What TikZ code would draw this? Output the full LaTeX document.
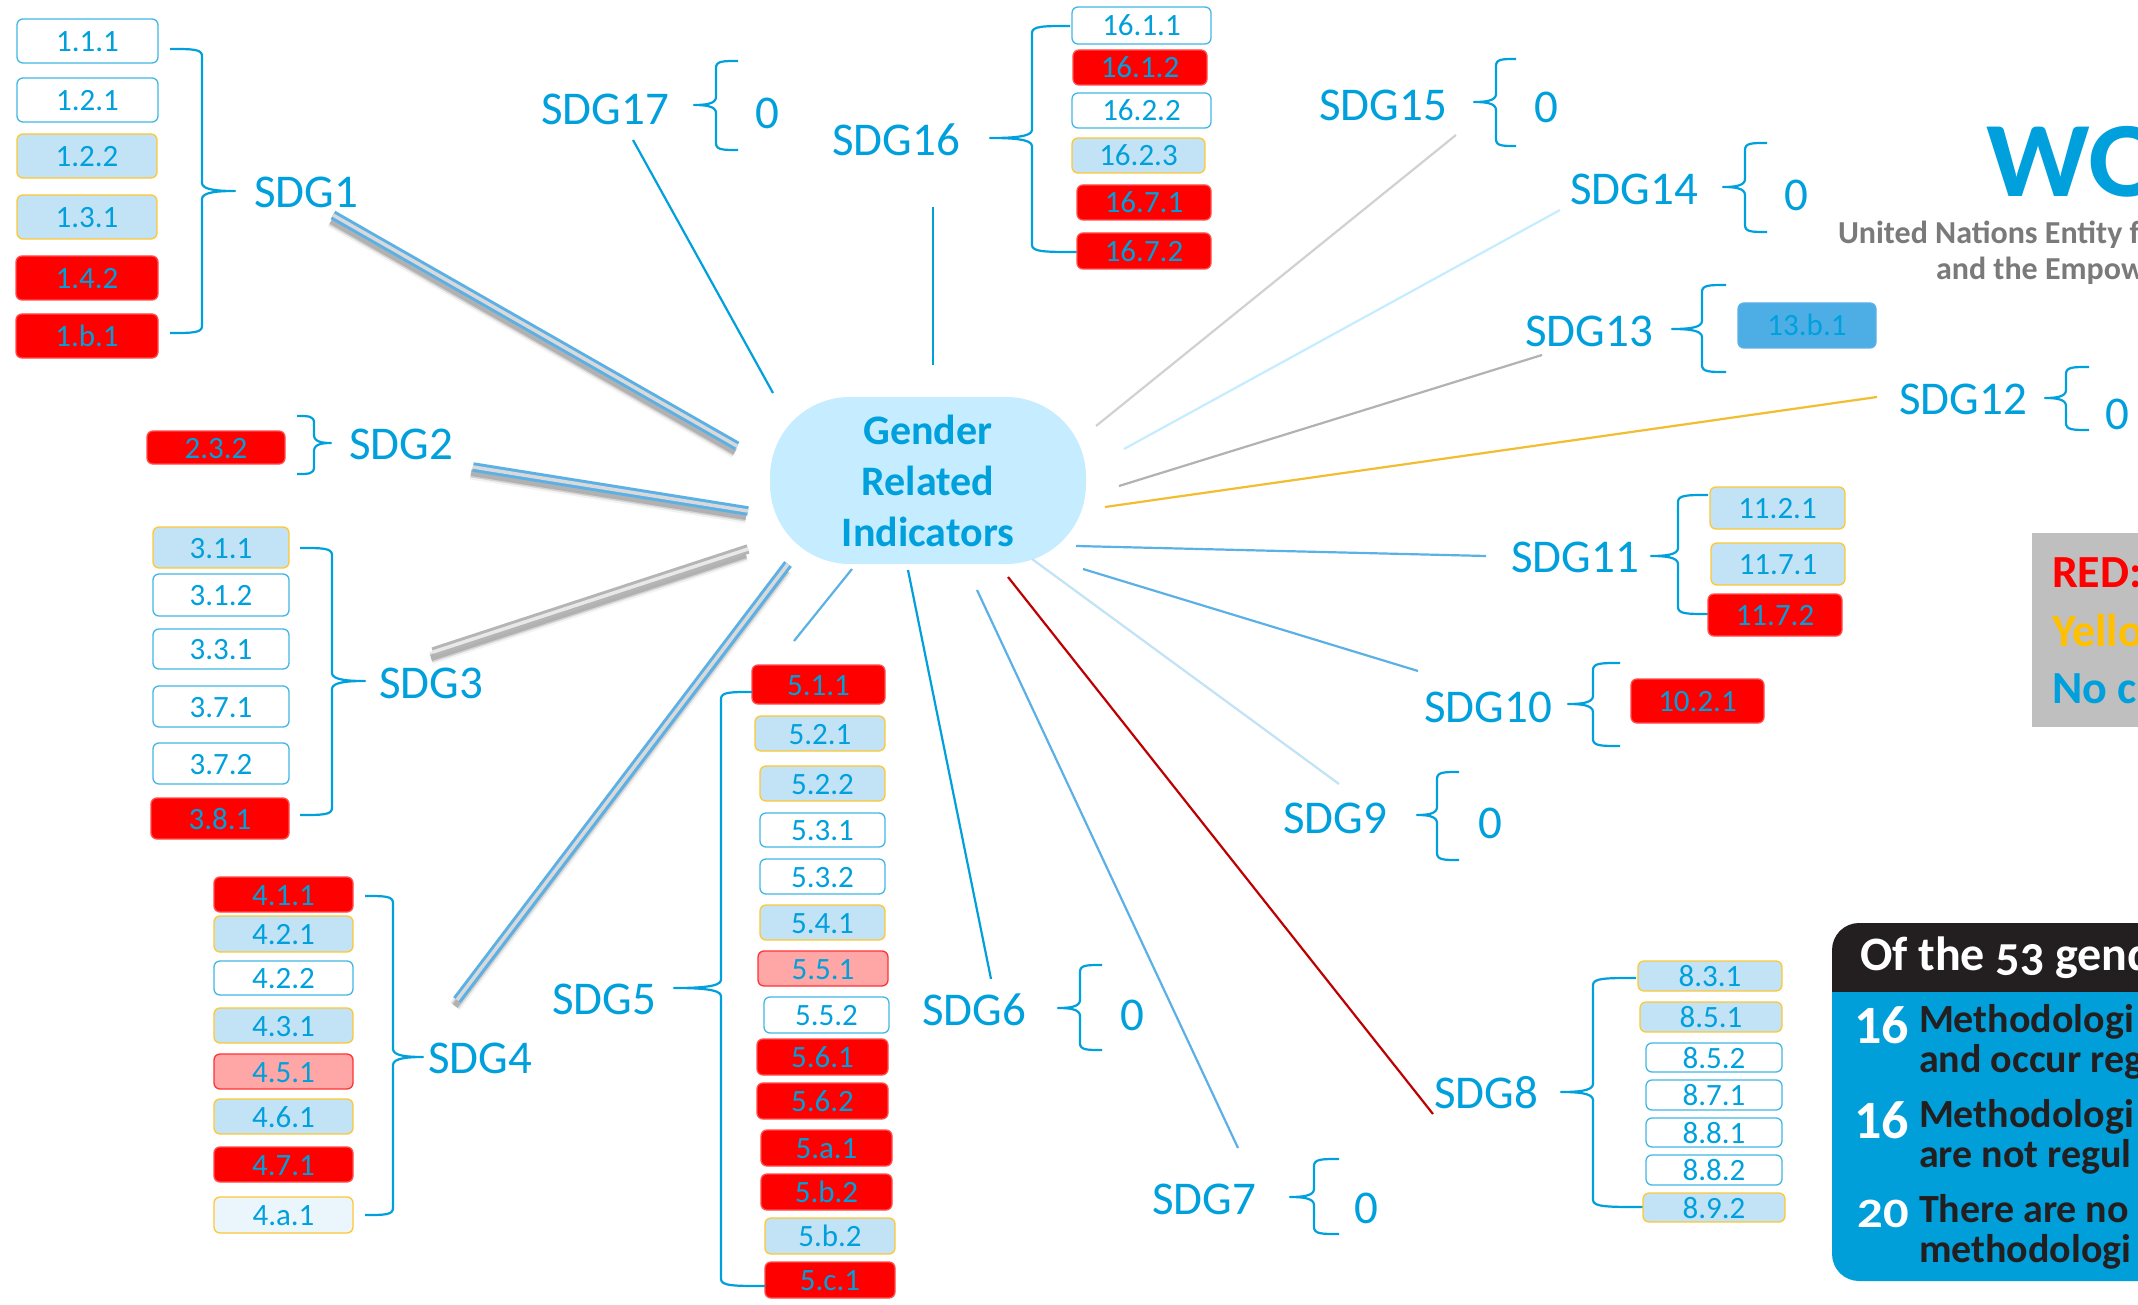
\documentclass[tikz,border=0pt]{standalone}
\usepackage{fontspec}
\setmainfont{Carlito}
\newfontfamily\panelfont[Numbers=OldStyle]{Carlito}
\definecolor{sdgblue}{HTML}{00A0DC}
\definecolor{linkblue}{HTML}{5BB0E6}
\definecolor{pale}{HTML}{C2E2F6}
\definecolor{gold}{HTML}{FFC733}
\definecolor{hubfill}{HTML}{C5EDFF}
\definecolor{panelblack}{HTML}{231F20}
\definecolor{panelblue}{HTML}{009FDA}
\tikzset{
  ibox/.style={rounded corners=6pt,inner sep=0pt,outer sep=0pt,line width=1.3pt,text=sdgblue,
    font=\fontsize{31}{36}\selectfont,text height=21pt,text depth=0pt,align=center},
  iwhite/.style={ibox,draw=sdgblue!75,fill=white},
  ipale/.style={ibox,draw=gold,fill=pale},
  ired/.style={ibox,draw=red!70!white,fill=red},
  ipink/.style={ibox,draw=red!80!white,fill=red!35!white},
  ifaint/.style={ibox,draw=gold,fill=pale!35!white},
  itone/.style={ibox,draw=linkblue,fill=linkblue!85!sdgblue},
  sdglabel/.style={inner sep=0pt,outer sep=0pt,text=sdgblue,font=\fontsize{47}{54}\selectfont,
    text height=31pt,text depth=0pt},
  brc/.style={draw=sdgblue,line width=2.2pt,line join=round},
  link/.style={line width=2.2pt},
  band/.style={line width=3pt,double distance=3.5pt},
  bandshade/.style={line width=6pt,draw=black,opacity=.16},
  bandshadeb/.style={line width=9pt,draw=black,opacity=.12},
  bandshadec/.style={line width=13pt,draw=black,opacity=.05},
  rtxt/.style={inner sep=0pt,outer sep=0pt,anchor=base west},
}
\newcommand{\ib}[7]{\node[#1,minimum width={(#5-#3)*1pt},minimum height={(#6-#4)*1pt}] (#2) at ({(#3+#5)/2},{(#4+#6)/2}) {#7};}
% name xs ys xv xt yt ye xe
\newcommand{\brk}[8]{%
  \coordinate (#1s) at (#2,#3); \coordinate (#1t) at (#5,#6); \coordinate (#1e) at (#8,#7);
  \draw[brc] (#1s) .. controls ({(#2+#4)/2+(#4-#2)*.2},#3) and (#4,#3) .. (#4,{#3+7}) -- (#4,{#6-8})
    .. controls (#4,{#6-1}) and ({(#4+#5)/2},#6) .. (#1t)
    .. controls ({(#4+#5)/2},#6) and (#4,{#6+1}) .. (#4,{#6+8}) -- (#4,{#7-7})
    .. controls (#4,#7) and ({(#8+#4)/2+(#4-#8)*.2},#7) .. (#1e);}
\newcommand{\lnk}[6]{\coordinate (#1a) at (#3,#4); \coordinate (#1b) at (#5,#6); \draw[link,draw=#2] (#1a) -- (#1b);}
\newcommand{\bnd}[7]{\coordinate (#1a) at (#4,#5); \coordinate (#1b) at (#6,#7);
  \draw[bandshadec] ([shift={(-2,6)}]#1a) -- ([shift={(-2,6)}]#1b);
  \draw[bandshadeb] ([shift={(-2,6)}]#1a) -- ([shift={(-2,6)}]#1b);
  \draw[bandshade] ([shift={(-2,6)}]#1a) -- ([shift={(-2,6)}]#1b);
  \draw[band,draw=#2,double=#3] (#1a) -- (#1b);}
\begin{document}
\begin{tikzpicture}[x=1pt,y=-1pt]
\useasboundingbox (0,0) rectangle (2138,1305);
\fill[white] (0,0) rectangle (2138,1305);
% hub
\node[rounded corners=80pt,fill=hubfill,minimum width=316pt,minimum height=167pt,inner sep=0pt,outer sep=0pt] (hub) at (928,480.5) {};
\node[inner sep=0pt,text=sdgblue,font=\fontsize{42}{51}\selectfont\bfseries,align=center,text depth=0pt] (hubt) at (928,481) {Gender\\Related\\Indicators};
% SDG1
\ib{iwhite}{b111}{17}{19}{158}{63}{1.1.1}
\ib{iwhite}{b121}{17}{78}{158}{122}{1.2.1}
\ib{ipale}{b122}{17}{134}{157}{178}{1.2.2}
\ib{ipale}{b131}{17}{195}{157}{239}{1.3.1}
\ib{ired}{b142}{16}{256}{158}{300}{1.4.2}
\ib{ired}{b1b1}{16}{314}{158}{358}{1.b.1}
\brk{br1}{170}{49}{202}{235}{191}{333}{170}
\node[sdglabel] (sdg1) at (306,192) {SDG1};
% SDG2
\ib{ired}{b232}{147}{431}{285}{464}{2.3.2}
\brk{br2}{297}{416}{314}{331}{443}{474}{297}
\node[sdglabel] (sdg2) at (401,444) {SDG2};
% SDG3
\ib{ipale}{b311}{153}{527}{289}{568}{3.1.1}
\ib{iwhite}{b312}{153}{574}{289}{616}{3.1.2}
\ib{iwhite}{b331}{153}{629}{289}{669}{3.3.1}
\ib{iwhite}{b371}{153}{686}{289}{727}{3.7.1}
\ib{iwhite}{b372}{153}{743}{289}{784}{3.7.2}
\ib{ired}{b381}{151}{798}{289}{839}{3.8.1}
\brk{br3}{300}{548}{332}{365}{681}{815}{300}
\node[sdglabel] (sdg3) at (431,683) {SDG3};
% SDG4
\ib{ired}{b411}{214}{877}{353}{912}{4.1.1}
\ib{ipale}{b421}{214}{916}{353}{952}{4.2.1}
\ib{iwhite}{b422}{214}{961}{353}{995}{4.2.2}
\ib{ipale}{b431}{214}{1008}{353}{1043}{4.3.1}
\ib{ipink}{b451}{214}{1054}{353}{1089}{4.5.1}
\ib{ipale}{b461}{214}{1099}{353}{1134}{4.6.1}
\ib{ired}{b471}{214}{1147}{353}{1182}{4.7.1}
\ib{ifaint}{b4a1}{214}{1197}{353}{1233}{4.a.1}
\brk{br4}{365}{896}{393}{423}{1057}{1215}{365}
\node[sdglabel] (sdg4) at (480,1058) {SDG4};
% SDG5
\ib{ired}{b511}{752}{665}{885}{704}{5.1.1}
\ib{ipale}{b521}{755}{716}{885}{751}{5.2.1}
\ib{ipale}{b522}{760}{766}{885}{801}{5.2.2}
\ib{iwhite}{b531}{760}{813}{885}{847}{5.3.1}
\ib{iwhite}{b532}{760}{859}{885}{894}{5.3.2}
\ib{ipale}{b541}{760}{905}{885}{940}{5.4.1}
\ib{ipink}{b551}{758}{951}{888}{986}{5.5.1}
\ib{iwhite}{b552}{764}{997}{889}{1033}{5.5.2}
\ib{ired}{b561}{757}{1039}{888}{1075}{5.6.1}
\ib{ired}{b562}{757}{1083}{888}{1119}{5.6.2}
\ib{ired}{b5a1}{761}{1130}{892}{1166}{5.a.1}
\ib{ired}{b5b2}{761}{1174}{892}{1210}{5.b.2}
\ib{ipale}{b5b3}{765}{1218}{895}{1254}{5.b.2}
\ib{ired}{b5c1}{765}{1262}{895}{1298}{5.c.1}
\brk{br5}{752}{692}{721}{674}{988}{1286}{765}
\node[sdglabel] (sdg5) at (604,999) {SDG5};
% SDG6
\node[sdglabel] (sdg6) at (974,1010) {SDG6};
\brk{br6}{1102}{965}{1080}{1058}{1008}{1050}{1102}
\node[sdglabel] (z6) at (1132,1015) {0};
% SDG7
\node[sdglabel] (sdg7) at (1204,1199) {SDG7};
\brk{br7}{1339}{1159}{1314}{1290}{1197}{1234}{1339}
\node[sdglabel] (z7) at (1366,1208) {0};
% SDG8
\node[sdglabel] (sdg8) at (1486,1093) {SDG8};
\brk{br8}{1636}{978}{1593}{1561}{1092}{1207}{1643}
\ib{ipale}{b831}{1638}{961}{1782}{991}{8.3.1}
\ib{ipale}{b851}{1640}{1002}{1782}{1032}{8.5.1}
\ib{iwhite}{b852}{1646}{1043}{1782}{1072}{8.5.2}
\ib{iwhite}{b871}{1646}{1080}{1782}{1110}{8.7.1}
\ib{iwhite}{b881}{1646}{1118}{1782}{1147}{8.8.1}
\ib{iwhite}{b882}{1646}{1155}{1782}{1185}{8.8.2}
\ib{ipale}{b892}{1643}{1193}{1785}{1222}{8.9.2}
% SDG9
\node[sdglabel] (sdg9) at (1335,818) {SDG9};
\brk{br9}{1459}{772}{1437}{1417}{815}{860}{1459}
\node[sdglabel] (z9) at (1490,823) {0};
% SDG10
\node[sdglabel] (sdg10) at (1488,707) {SDG10};
\brk{br10}{1620}{663}{1593}{1568}{704}{746}{1620}
\ib{ired}{b1021}{1631}{679}{1764}{723}{10.2.1}
% SDG11
\node[sdglabel] (sdg11) at (1575,557) {SDG11};
\brk{br11}{1708}{495}{1678}{1651}{556}{614}{1708}
\ib{ipale}{b1121}{1710}{487}{1845}{529}{11.2.1}
\ib{ipale}{b1171}{1711}{543}{1845}{585}{11.7.1}
\ib{ired}{b1172}{1708}{594}{1842}{636}{11.7.2}
% SDG12
\node[sdglabel] (sdg12) at (1963,399) {SDG12};
\brk{br12}{2089}{367}{2066}{2045}{398}{430}{2089}
\node[sdglabel] (z12) at (2117,414) {0};
% SDG13
\node[sdglabel] (sdg13) at (1589,331) {SDG13};
\brk{br13}{1726}{285}{1702}{1672}{329}{372}{1726}
\ib{itone}{b13b1}{1738}{303}{1876}{348}{13.b.1}
% SDG14
\node[sdglabel] (sdg14) at (1634,189) {SDG14};
\brk{br14}{1767}{143}{1745}{1723}{187}{232}{1767}
\node[sdglabel] (z14) at (1796,195) {0};
% SDG15
\node[sdglabel] (sdg15) at (1383,105) {SDG15};
\brk{br15}{1516}{59}{1496}{1474}{102}{146}{1516}
\node[sdglabel] (z15) at (1546,107) {0};
% SDG16
\node[sdglabel] (sdg16) at (896,140) {SDG16};
\brk{br16}{1070}{26}{1032}{990}{138}{252}{1077}
\ib{iwhite}{b1611}{1072}{7}{1211}{44}{16.1.1}
\ib{ired}{b1612}{1073}{50}{1207}{85}{16.1.2}
\ib{iwhite}{b1622}{1072}{93}{1211}{128}{16.2.2}
\ib{ipale}{b1623}{1072}{138}{1205}{173}{16.2.3}
\ib{ired}{b1671}{1077}{185}{1211}{220}{16.7.1}
\ib{ired}{b1672}{1077}{233}{1211}{269}{16.7.2}
% SDG17
\node[sdglabel] (sdg17) at (605,109) {SDG17};
\brk{br17}{738}{61}{716}{694}{105}{150}{738}
\node[sdglabel] (z17) at (767,113) {0};
% connectors
\bnd{k1}{linkblue}{black!15}{333}{215}{737}{446}
\bnd{k2}{linkblue}{black!15}{473}{467}{748}{511}
\bnd{k3}{black!29}{black!9}{433}{652}{748}{549}
\bnd{k4}{linkblue}{black!15}{457}{1000}{788}{564}
\lnk{k5}{linkblue}{794}{641}{852}{569}
\lnk{k6}{sdgblue}{991}{979}{908}{570}
\lnk{k7}{linkblue}{1238}{1148}{977}{590}
\lnk{k8}{red!75!black}{1433}{1114}{1008}{577}
\lnk{k9}{pale}{1339}{784}{1032}{559}
\lnk{k10}{linkblue}{1418}{671}{1083}{569}
\lnk{k11}{linkblue}{1486}{556}{1076}{546}
\lnk{k12}{gold!95!black}{1877}{397}{1105}{507}
\lnk{k13}{black!30}{1542}{355}{1119}{486}
\lnk{k14}{hubfill}{1560}{210}{1124}{449}
\lnk{k15}{black!18}{1456}{135}{1096}{426}
\lnk{k16}{sdgblue}{933}{207}{933}{365}
\lnk{k17}{sdgblue}{633}{140}{773}{393}
% cropped items at the right edge
\begin{scope}
\clip (0,0) rectangle (2138,1305);
\node[rtxt,text=sdgblue,font=\fontsize{107}{110}\selectfont\bfseries] (logo) at (1986,197) {\scalebox{1.07}[1]{WO}};
\node[rtxt,text=black!52,font=\fontsize{32}{36}\selectfont\bfseries] (un1) at (1838,244) {United Nations Entity f};
\node[rtxt,text=black!52,font=\fontsize{32}{36}\selectfont\bfseries] (un2) at (1936,280) {and the Empow};
\fill[black!25] (2032,533) rectangle (2150,727);
\node[rtxt,text=red,font=\fontsize{46}{50}\selectfont\bfseries] (leg1) at (2052,587) {RED:};
\definecolor{legyellow}{HTML}{FFC000}
\node[rtxt,text=legyellow,font=\fontsize{46}{50}\selectfont\bfseries] (leg2) at (2052,646) {Yello};
\node[rtxt,text=sdgblue,font=\fontsize{46}{50}\selectfont\bfseries] (leg3) at (2052,703) {No c};
\fill[panelblack] (1832,992) {[rounded corners=27pt] -- (1832,923) -- (2170,923)} -- (2170,992) -- cycle;
\fill[panelblue] (1832,992) {[rounded corners=27pt] -- (1832,1281) -- (2170,1281)} -- (2170,992) -- cycle;
\node[rtxt,text=white,font=\panelfont\fontsize{48}{50}\selectfont\bfseries] (ph) at (1860,970) {Of the 53 gend};
\node[inner sep=0pt,outer sep=0pt,anchor=base east,text=white,font=\fontsize{54}{60}\selectfont\bfseries] (n1) at (1909,1043) {16};
\node[inner sep=0pt,outer sep=0pt,anchor=base east,text=white,font=\fontsize{54}{60}\selectfont\bfseries] (n2) at (1909,1138) {16};
\node[inner sep=0pt,outer sep=0pt,anchor=base east,text=white,font=\fontsize{44}{60}\selectfont\bfseries] (n3) at (1909,1227) {\scalebox{1.15}[.95]{20}};
\node[rtxt,text=panelblack,font=\fontsize{40}{40}\selectfont\bfseries] (t1) at (1919,1032) {Methodologi};
\node[rtxt,text=panelblack,font=\fontsize{40}{40}\selectfont\bfseries] (t2) at (1919,1072) {and occur reg};
\node[rtxt,text=panelblack,font=\fontsize{40}{40}\selectfont\bfseries] (t3) at (1919,1127) {Methodologi};
\node[rtxt,text=panelblack,font=\fontsize{40}{40}\selectfont\bfseries] (t4) at (1919,1167) {are not regul};
\node[rtxt,text=panelblack,font=\fontsize{40}{40}\selectfont\bfseries] (t5) at (1919,1222) {There are no};
\node[rtxt,text=panelblack,font=\fontsize{40}{40}\selectfont\bfseries] (t6) at (1919,1262) {methodologi};
\end{scope}
\end{tikzpicture}
\end{document}
